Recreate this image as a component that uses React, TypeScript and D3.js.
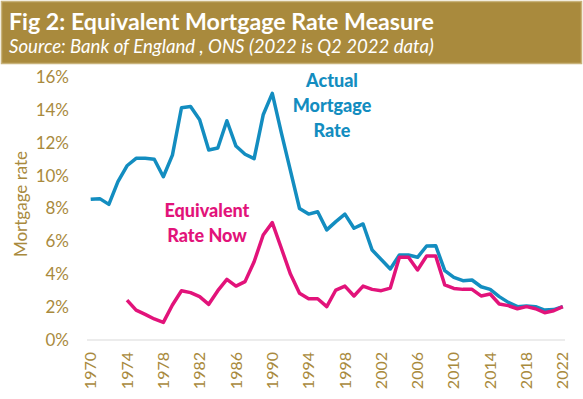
import React from 'react';
import * as d3 from 'd3';

const years = d3.range(1970, 2023);
const actualRate = [8.56, 8.6, 8.25, 9.63, 10.6, 11.05, 11.05, 11.0, 9.93, 11.25,
    14.13, 14.2, 13.4, 11.56, 11.68, 13.34, 11.8, 11.3, 11.03, 13.7,
    15.0, 12.6, 10.3, 8.0, 7.66, 7.8, 6.7, 7.2, 7.66, 6.8,
    7.06, 5.47, 4.9, 4.32, 5.17, 5.17, 5.03, 5.72, 5.74, 4.22,
    3.81, 3.61, 3.65, 3.24, 3.08, 2.64, 2.29, 2.03, 2.07, 2.03,
    1.82, 1.85, 2.03];
// equivalent rate starts in 1974
const equivYears = d3.range(1974, 2023);
const equivRate = [2.43, 1.82, 1.56, 1.28, 1.07, 2.13,
    3.0, 2.88, 2.64, 2.17, 3.0, 3.69, 3.28, 3.55, 4.76, 6.39,
    7.14, 5.58, 4.01, 2.84, 2.51, 2.51, 2.03, 3.04, 3.28, 2.68,
    3.28, 3.08, 3.0, 3.16, 5.03, 5.03, 4.26, 5.11, 5.11, 3.35,
    3.14, 3.08, 3.08, 2.68, 2.8, 2.19, 2.09, 1.9, 2.03, 1.9,
    1.66, 1.78, 2.03];
const yTicks = [0, 2, 4, 6, 8, 10, 12, 14, 16];
const xTicks = d3.range(1970, 2023, 4);

const gold = '#a98a3d';
const blue = '#138dc0';
const pink = '#e2137a';
const font = 'Lato, "Open Sans", sans-serif';

function App() {
    const x = d3.scaleLinear().domain([1970, 2022]).range([90.7, 562.8]);
    const y = d3.scaleLinear().domain([0, 16]).range([340, 77]);
    const line = d3.line<[number, number]>().x(d => x(d[0])).y(d => y(d[1]));
    const actualPts = years.map((yr, i) => [yr, actualRate[i]] as [number, number]);
    const equivPts = equivYears.map((yr, i) => [yr, equivRate[i]] as [number, number]);

    return (
        <svg width={583} height={399} style={{ position: 'absolute', left: 0, top: 0, background: '#fff' }}>
            <rect x={1.5} y={1.5} width={580} height={62} fill={gold} stroke="#c8b27a" strokeWidth={1.5} />
            <text x={9} y={30} fill="#fff" fontFamily={font} fontWeight="bold" fontSize={23.2}>
                Fig 2: Equivalent Mortgage Rate Measure
            </text>
            <text x={9} y={53} fill="#fff" fontFamily={font} fontStyle="italic" fontSize={18.6}>
                Source: Bank of England , ONS (2022 is Q2 2022 data)
            </text>

            <line x1={87} x2={565} y1={y(0)} y2={y(0)} stroke="#d9d9d9" strokeWidth={1.2} />

            {yTicks.map(t => (
                <text key={t} x={69} y={y(t)} dy="0.35em" textAnchor="end" fill={gold}
                    fontFamily={font} fontSize={17}>{t}%</text>
            ))}
            <text transform={`translate(21,204) rotate(-90)`} textAnchor="middle" dy="0.35em"
                fill={gold} fontFamily={font} fontSize={17}>Mortgage rate</text>

            {xTicks.map(t => (
                <text key={t} transform={`translate(${x(t)},352) rotate(-90)`} textAnchor="end" dy="0.35em"
                    fill={gold} fontFamily={font} fontSize={16}>{t}</text>
            ))}

            <path d={line(actualPts) || ''} fill="none" stroke={blue} strokeWidth={3.5} strokeLinejoin="round" />
            <path d={line(equivPts) || ''} fill="none" stroke={pink} strokeWidth={3.5} strokeLinejoin="round" />

            <text textAnchor="middle" fill={blue} fontFamily={font} fontWeight={900} fontSize={18}>
                <tspan x={332} y={87}>Actual</tspan>
                <tspan x={332} y={112}>Mortgage</tspan>
                <tspan x={332} y={137}>Rate</tspan>
            </text>
            <text textAnchor="middle" fill={pink} fontFamily={font} fontWeight={900} fontSize={18}>
                <tspan x={207} y={217}>Equivalent</tspan>
                <tspan x={207} y={242}>Rate Now</tspan>
            </text>
        </svg>
    );
}

export default App;
